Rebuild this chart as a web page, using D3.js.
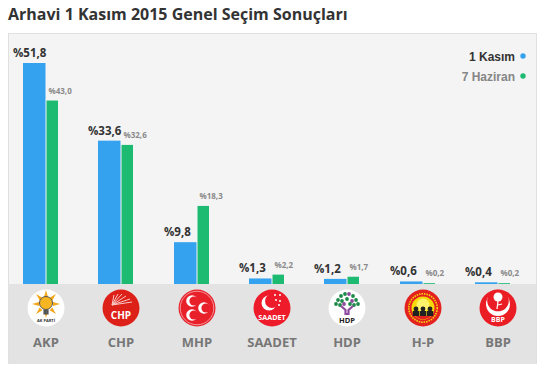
<!DOCTYPE html>
<html>
<head>
<meta charset="utf-8">
<script src="https://cdn.jsdelivr.net/npm/d3@7"></script>
<style>
  html, body { margin: 0; padding: 0; background: #fff; }
  svg { display: block; }
  text { font-family: "Open Sans", sans-serif; font-weight: 700; }
</style>
</head>
<body>
<script>
var w = 550;
var h = 377;

var parties = ["AKP", "CHP", "MHP", "SAADET", "HDP", "H-P", "BBP"];
var kasim = [51.8, 33.6, 9.8, 1.3, 1.2, 0.6, 0.4];
var haziran = [43.0, 32.6, 18.3, 2.2, 1.7, 0.2, 0.2];
var seriesNames = ["1 Kasım", "7 Haziran"];
var title = "Arhavi 1 Kasım 2015 Genel Seçim Sonuçları";

var blue = "#34a2ee";
var green = "#1dbb72";
var baseY = 284;

var svg = d3.select("body").append("svg").attr("width", w).attr("height", h);

// Scales
var xScale = d3.scaleBand().domain(parties).range([8.4, 535.5]);
var yScale = d3.scaleLinear().domain([0, 51.8]).range([baseY, 63]);

function center(name) {
  return Math.round(xScale(name) + xScale.bandwidth() / 2);
}

function fmt(v) {
  return "%" + v.toFixed(1).replace(".", ",");
}

// Title
svg.append("text")
  .attr("x", 8).attr("y", 20)
  .attr("font-size", 16)
  .attr("fill", "#333")
  .text(title);

// Panel
svg.append("rect").attr("x", 8).attr("y", 33).attr("width", 529).attr("height", 331).attr("fill", "#e0e0e0");
svg.append("rect").attr("x", 9).attr("y", 34).attr("width", 527).attr("height", 250).attr("fill", "#f4f4f4");
svg.append("rect").attr("x", 9).attr("y", baseY).attr("width", 527).attr("height", 79.5).attr("fill", "#e3e3e3");

// Bars
svg.selectAll(".kasim").data(parties).enter().append("rect")
  .attr("class", "kasim")
  .attr("x", function (d) { return center(d) - 23; })
  .attr("y", function (d, i) { return yScale(kasim[i]); })
  .attr("width", 22.5)
  .attr("height", function (d, i) { return baseY - yScale(kasim[i]); })
  .attr("fill", blue);

svg.selectAll(".haziran").data(parties).enter().append("rect")
  .attr("class", "haziran")
  .attr("x", function (d) { return center(d) + 0.5; })
  .attr("y", function (d, i) { return yScale(haziran[i]); })
  .attr("width", 11.5)
  .attr("height", function (d, i) { return baseY - yScale(haziran[i]); })
  .attr("fill", green);

// Value labels
svg.selectAll(".lab1").data(parties).enter().append("text")
  .attr("class", "lab1")
  .attr("x", function (d) { return center(d) - 33; })
  .attr("y", function (d, i) { return yScale(kasim[i]) - 6; })
  .attr("font-size", 11.5)
  .attr("fill", "#333")
  .text(function (d, i) { return fmt(kasim[i]); });

svg.selectAll(".lab2").data(parties).enter().append("text")
  .attr("class", "lab2")
  .attr("x", function (d) { return center(d) + 2.5; })
  .attr("y", function (d, i) { return yScale(haziran[i]) - 7; })
  .attr("font-size", 8)
  .attr("fill", "#8a8a8a")
  .text(function (d, i) { return fmt(haziran[i]); });

// Legend
var legend = svg.selectAll(".legend").data(seriesNames).enter().append("g")
  .attr("class", "legend")
  .attr("transform", function (d, i) { return "translate(0," + (56 + i * 20) + ")"; });
legend.append("text")
  .attr("x", 515).attr("y", 4.5)
  .attr("text-anchor", "end")
  .attr("font-size", 12)
  .style("font-family", "'Liberation Sans', Arial, sans-serif")
  .attr("fill", function (d, i) { return i ? "#868686" : "#333"; })
  .text(function (d) { return d; });
legend.append("circle")
  .attr("cx", 523).attr("cy", 0).attr("r", 2.7)
  .attr("fill", function (d, i) { return i ? green : blue; });

// Party names
svg.selectAll(".party").data(parties).enter().append("text")
  .attr("class", "party")
  .attr("x", center)
  .attr("y", 347)
  .attr("text-anchor", "middle")
  .attr("font-size", 13)
  .attr("fill", "#777")
  .text(function (d) { return d; });

// Logos, drawn around (0,0) with radius 18
function disc(g, fill) {
  g.append("circle").attr("r", 18.5).attr("fill", fill);
}
function small(g, x, y, t, size, fill) {
  g.append("text").attr("x", x).attr("y", y).attr("text-anchor", "middle")
    .attr("font-size", size).attr("fill", fill).text(t);
}

var logos = {
  AKP: function (g) {
    disc(g, "#fff");
    d3.range(0, 360, 45).forEach(function (a) {
      g.append("path").attr("d", "M-2,-7L0,-14L2,-7Z")
        .attr("fill", "#f5a81c")
        .attr("transform", "translate(0,-4) rotate(" + a + ")");
    });
    g.append("circle").attr("cy", -5).attr("r", 6.5).attr("fill", "#f6b622").attr("stroke", "#555").attr("stroke-width", 1);
    g.append("rect").attr("x", -2.6).attr("y", 1.5).attr("width", 5.2).attr("height", 5).attr("fill", "#555");
    small(g, 0, 14, "AK PARTİ", 4, "#333");
  },
  CHP: function (g) {
    disc(g, "#dd2119");
    [[-7, -13], [-3, -14], [1, -14], [5, -12], [9, -9], [11, -6]].forEach(function (p) {
      g.append("line").attr("x1", -9).attr("y1", -3).attr("x2", p[0]).attr("y2", p[1])
        .attr("stroke", "#f7c9c5").attr("stroke-width", 1);
    });
    small(g, 0, 11, "CHP", 10, "#fff");
  },
  MHP: function (g) {
    disc(g, "#e8202a");
    g.append("circle").attr("r", 16.8).attr("fill", "none").attr("stroke", "#f7b5b5").attr("stroke-width", 0.8);
    [[-5, -7], [-5, 7], [7, 0]].forEach(function (p) {
      g.append("circle").attr("cx", p[0]).attr("cy", p[1]).attr("r", 5.8).attr("fill", "#fff");
      g.append("circle").attr("cx", p[0] + 2).attr("cy", p[1]).attr("r", 4.6).attr("fill", "#e8202a");
    });
  },
  SAADET: function (g) {
    disc(g, "#ee1c2b");
    g.append("circle").attr("cx", -3).attr("cy", -5).attr("r", 7.5).attr("fill", "#fff");
    g.append("circle").attr("cx", 0).attr("cy", -7).attr("r", 7).attr("fill", "#ee1c2b");
    [[3, -13], [8, -13], [4, -8], [8, -7], [7, -3]].forEach(function (p) {
      g.append("circle").attr("cx", p[0]).attr("cy", p[1]).attr("r", 1).attr("fill", "#fff");
    });
    small(g, 0, 11.5, "SAADET", 7.2, "#fff");
  },
  HDP: function (g) {
    disc(g, "#fff");
    [[-9, -8], [-6, -12], [-2, -14], [2, -14], [6, -12], [9, -8], [-5, -7], [0, -9], [5, -7], [-11, -4], [11, -4], [-7, -3], [7, -3], [-3, -4], [3, -4]].forEach(function (p, i) {
      g.append("circle").attr("cx", p[0]).attr("cy", p[1]).attr("r", 1.9)
        .attr("fill", i % 5 == 3 ? "#8e4a9e" : "#1d8a4a");
    });
    g.append("path").attr("d", "M-6,-2L-1.5,2V6H1.5V2L6,-2").attr("fill", "none").attr("stroke", "#8e4a9e").attr("stroke-width", 2.2);
    small(g, 0, 14.5, "HDP", 7.5, "#222");
  },
  "H-P": function (g) {
    disc(g, "#e3211f");
    g.append("circle").attr("r", 14.2).attr("fill", "none").attr("stroke", "#f5d90a").attr("stroke-width", 1.6).attr("stroke-dasharray", "1.5 1");
    g.append("circle").attr("r", 11.5).attr("fill", "#f5d90a");
    g.append("circle").attr("cy", -3).attr("r", 6.5).attr("fill", "#fff36b");
    [-7, 0, 7].forEach(function (x) {
      g.append("circle").attr("cx", x).attr("cy", 1).attr("r", 2.4).attr("fill", "#222");
      g.append("rect").attr("x", x - 3.2).attr("y", 3).attr("width", 6.4).attr("height", 5).attr("fill", "#222");
    });
    g.append("path").attr("d", "M-8,8H8A11.5,11.5 0 0 1 -8,8Z").attr("fill", "#e3211f");
  },
  BBP: function (g) {
    disc(g, "#ea1c24");
    g.append("circle").attr("cy", -4).attr("r", 12).attr("fill", "#fff");
    g.append("circle").attr("cy", -7.5).attr("r", 10.8).attr("fill", "#ea1c24");
    g.append("circle").attr("cx", 0).attr("cy", -11).attr("r", 4.5).attr("fill", "#fff");
    g.append("path").attr("d", "M0,-7L-1,1").attr("stroke", "#fff").attr("stroke-width", 1.2);
    g.append("path").attr("d", "M0,-3L4,-4").attr("stroke", "#fff").attr("stroke-width", 1.2);
    small(g, 0, 14, "BBP", 7, "#fff");
  },
};

svg.selectAll(".logo").data(parties).enter().append("g")
  .attr("class", "logo")
  .attr("transform", function (d) { return "translate(" + center(d) + ",308)"; })
  .each(function (d) { logos[d](d3.select(this)); });
</script>
</body>
</html>
